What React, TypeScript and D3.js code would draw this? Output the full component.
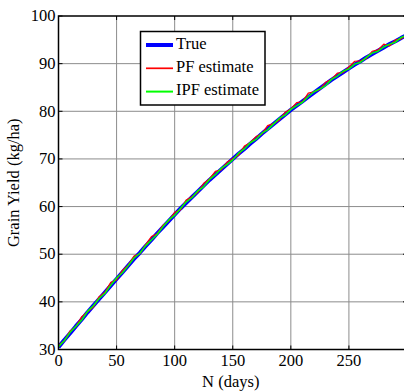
import React from "react";
import * as d3 from "d3";

const days: number[] = [0,5,10,15,20,25,30,35,40,45,50,55,60,65,70,75,80,85,90,95,100,105,110,115,120,125,130,135,140,145,150,155,160,165,170,175,180,185,190,195,200,205,210,215,220,225,230,235,240,245,250,255,260,265,270,275,280,285,290,295,300];

const trueYield: number[] = [30.5,32.0,33.4,34.9,36.3,37.8,39.2,40.6,42.0,43.4,44.8,46.2,47.6,49.0,50.3,51.7,53.0,54.4,55.7,57.0,58.3,59.6,60.8,62.0,63.2,64.4,65.6,66.7,67.8,68.9,70.0,71.1,72.1,73.2,74.2,75.3,76.3,77.3,78.3,79.3,80.3,81.2,82.1,83.0,83.9,84.8,85.7,86.6,87.4,88.2,89.0,89.8,90.5,91.3,92.0,92.7,93.4,94.1,94.7,95.4,96.0];

const pfYield: number[] = [30.9,31.8,33.9,34.8,36.9,37.9,38.9,41.1,42.0,44.1,44.6,46.6,47.7,49.6,50.1,52.0,53.7,54.3,56.1,57.0,58.8,59.3,61.4,62.1,63.0,64.9,65.8,67.4,67.7,69.3,70.1,70.8,72.7,73.4,74.7,75.2,77.0,77.4,78.1,79.8,80.5,81.8,82.0,83.8,84.1,84.6,86.1,86.7,88.0,88.1,89.3,90.5,90.6,91.1,92.6,92.9,94.1,93.7,95.0,95.2,96.2];

const ipfYield: number[] = [30.6,31.9,33.6,34.9,36.2,38.0,39.2,40.7,41.8,43.5,45.0,46.1,47.6,49.2,50.2,51.8,53.0,54.2,55.8,57.2,58.2,59.6,61.0,61.9,63.3,64.2,65.7,66.7,68.0,68.8,69.8,71.2,72.1,73.4,74.1,75.4,76.1,77.3,78.5,79.2,80.4,81.2,81.9,83.1,84.1,84.7,85.4,86.7,87.4,88.4,88.9,89.9,90.3,91.3,92.2,92.6,93.5,94.1,94.5,95.5,96.0];

const xTicks: number[] = [0, 50, 100, 150, 200, 250];
const yTicks: number[] = [30, 40, 50, 60, 70, 80, 90, 100];
const legendLabels: string[] = ["True", "PF estimate", "IPF estimate"];
const legendColors: string[] = ["#0000ff", "#ff0000", "#00ff00"];
const legendWidths: number[] = [4, 1.2, 1.5];

const W = 404, H = 391;
const L = 58.5, R = 407, T = 16, B = 349.5;
const FONT = "'Liberation Serif', 'Times New Roman', serif";

export default function App() {
  const x = d3.scaleLinear().domain([0, 300]).range([L, R]);
  const y = d3.scaleLinear().domain([30, 100]).range([B, T]);
  const mk = (vals: number[]) =>
    d3.line<number>().x((_, i) => x(days[i])).y((v) => y(v))(vals) || "";
  const series = [trueYield, pfYield, ipfYield];
  const tick = 4;

  return (
    <svg width={W} height={H} style={{ position: "absolute", left: 0, top: 0, background: "#fff" }}>
      <defs>
        <clipPath id="plot">
          <rect x={L} y={T} width={R - L} height={B - T} />
        </clipPath>
      </defs>
      <rect x={0} y={0} width={W} height={H} fill="#fff" />
      {/* grid */}
      {xTicks.slice(1).map((t) => (
        <line key={"gx" + t} x1={x(t)} x2={x(t)} y1={T} y2={B} stroke="#8c8c8c" strokeWidth={1} />
      ))}
      {yTicks.slice(1, -1).map((t) => (
        <line key={"gy" + t} x1={L} x2={R} y1={y(t)} y2={y(t)} stroke="#8c8c8c" strokeWidth={1} />
      ))}
      {/* series */}
      <g clipPath="url(#plot)">
        {series.map((s, i) => (
          <path key={i} d={mk(s)} fill="none" stroke={legendColors[i]} strokeWidth={legendWidths[i]} strokeLinejoin="round" />
        ))}
      </g>
      {/* ticks */}
      {xTicks.map((t) => (
        <g key={"tx" + t}>
          <line x1={x(t)} x2={x(t)} y1={B} y2={B - tick} stroke="#000" />
          <line x1={x(t)} x2={x(t)} y1={T} y2={T + tick} stroke="#000" />
          <text x={x(t)} y={362.5} textAnchor="middle" dominantBaseline="middle" fontFamily={FONT} fontSize={16.5} fill="#000">{t}</text>
        </g>
      ))}
      {yTicks.map((t) => (
        <g key={"ty" + t}>
          <line x1={L} x2={L + tick} y1={y(t)} y2={y(t)} stroke="#000" />
          <line x1={R} x2={R - tick} y1={y(t)} y2={y(t)} stroke="#000" />
          <text x={55.5} y={y(t) + 1.5} textAnchor="end" dominantBaseline="middle" fontFamily={FONT} fontSize={16.5} fill="#000">{t}</text>
        </g>
      ))}
      {/* axes box */}
      <rect x={L} y={T} width={R - L} height={B - T} fill="none" stroke="#000" strokeWidth={1.5} />
      {/* axis labels */}
      <text x={x(150) - 2} y={383} textAnchor="middle" dominantBaseline="middle" fontFamily={FONT} fontSize={16.5} fill="#000">N (days)</text>
      <text transform={`translate(15,${(T + B) / 2}) rotate(-90)`} textAnchor="middle" dominantBaseline="middle" fontFamily={FONT} fontSize={16.5} fill="#000">Grain Yield (kg/ha)</text>
      {/* legend */}
      <rect x={140.5} y={31.5} width={124.5} height={73.5} fill="#fff" stroke="#000" strokeWidth={1.5} />
      {legendLabels.map((lab, i) => {
        const cy = 45 + i * 23.3;
        return (
          <g key={lab}>
            <line x1={146} x2={173} y1={cy} y2={cy} stroke={legendColors[i]} strokeWidth={legendWidths[i] + (i === 0 ? 0 : 0.5)} />
            <text x={176} y={cy} dominantBaseline="middle" fontFamily={FONT} fontSize={16.5} fill="#000">{lab}</text>
          </g>
        );
      })}
    </svg>
  );
}
